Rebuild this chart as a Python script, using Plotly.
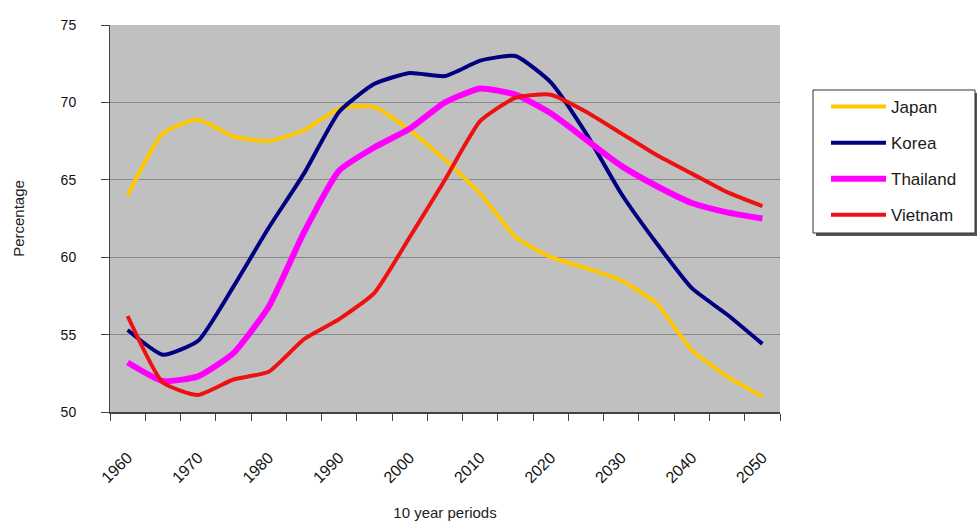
import plotly.graph_objects as go

years = [1960 + 5 * i for i in range(19)]
japan = [64.0, 68.0, 68.9, 67.8, 67.5, 68.2, 69.6, 69.7, 68.2, 66.3, 64.1, 61.3, 60.0, 59.3, 58.5, 57.0, 54.0, 52.3, 51.0]
korea = [55.3, 53.7, 54.6, 58.1, 61.9, 65.4, 69.4, 71.2, 71.9, 71.7, 72.7, 73.0, 71.3, 68.0, 64.1, 60.9, 58.0, 56.3, 54.4]
thailand = [53.2, 52.0, 52.3, 53.8, 56.8, 61.6, 65.6, 67.1, 68.3, 70.0, 70.9, 70.5, 69.3, 67.6, 65.9, 64.6, 63.5, 62.9, 62.5]
vietnam = [56.2, 51.9, 51.1, 52.1, 52.6, 54.7, 56.0, 57.7, 61.3, 65.0, 68.8, 70.3, 70.5, 69.4, 68.0, 66.6, 65.4, 64.2, 63.3]

tick_years = list(range(1960, 2051, 10))
tick_text = [str(y) for y in tick_years]

series = [
    ("Japan", japan, "#FFC800", 4),
    ("Korea", korea, "#000080", 4),
    ("Thailand", thailand, "#FF00FF", 6),
    ("Vietnam", vietnam, "#EE1111", 4),
]

FAM = "Liberation Sans, Arial, sans-serif"

fig = go.Figure()
for name, vals, color, w in series:
    fig.add_trace(go.Scatter(
        x=years, y=vals, name=name, mode="lines", legendgroup=name,
        line=dict(color=color, width=w, shape="spline", smoothing=0.5),
    ))

# plot area geometry (px) used to place legend frame in paper coords
L, R, T, B = 110, 780, 25, 412
W, H = R - L, B - T
def px(x):
    return (x - L) / W
def py(y):
    return (B - y) / H

fig.update_layout(
    width=977, height=527,
    margin=dict(l=L, r=977 - R, t=T, b=527 - B, autoexpand=False),
    paper_bgcolor="white",
    plot_bgcolor="#C0C0C0",
    font=dict(family=FAM, size=12, color="#222222"),
    showlegend=True,
    legend=dict(
        x=px(826), y=py(89), xanchor="left", yanchor="top",
        bgcolor="rgba(0,0,0,0)", borderwidth=0,
        font=dict(family=FAM, size=17, color="#1a1a1a"),
        tracegroupgap=11, itemwidth=55,
    ),
    shapes=[
        dict(type="rect", xref="paper", yref="paper",
             x0=px(816), x1=px(978), y0=py(93), y1=py(236),
             fillcolor="#555555", line=dict(width=0), layer="above"),
        dict(type="rect", xref="paper", yref="paper",
             x0=px(813), x1=px(975), y0=py(90), y1=py(233),
             fillcolor="white", line=dict(color="#333333", width=1), layer="above"),
    ],
    xaxis=dict(
        range=[1957.5, 2052.5],
        tickmode="array", tickvals=tick_years, ticktext=tick_text,
        tickangle=-45, ticks="", showgrid=False, zeroline=False,
        showline=True, linecolor="#444444", linewidth=2, mirror=False,
        minor=dict(tickmode="linear", tick0=1957.5, dtick=5, ticks="outside",
                   ticklen=7, tickwidth=1, tickcolor="#444444", showgrid=False),
        ticklabelstandoff=28,
        title=dict(text="10 year periods", standoff=22,
                   font=dict(family=FAM, size=15, color="#222222")),
        tickfont=dict(family=FAM, size=16, color="#111111"),
        automargin=False,
    ),
    yaxis=dict(
        range=[50, 75], tickmode="linear", tick0=50, dtick=5,
        ticks="outside", ticklen=8, tickcolor="#444444",
        showgrid=True, gridcolor="#888888", gridwidth=1, zeroline=False,
        showline=True, linecolor="#444444", linewidth=1,
        ticklabelstandoff=22,
        title=dict(text="Percentage", standoff=32,
                   font=dict(family=FAM, size=15, color="#222222")),
        tickfont=dict(family=FAM, size=14, color="#111111"),
        automargin=False,
    ),
)

fig.write_html("out.html")
